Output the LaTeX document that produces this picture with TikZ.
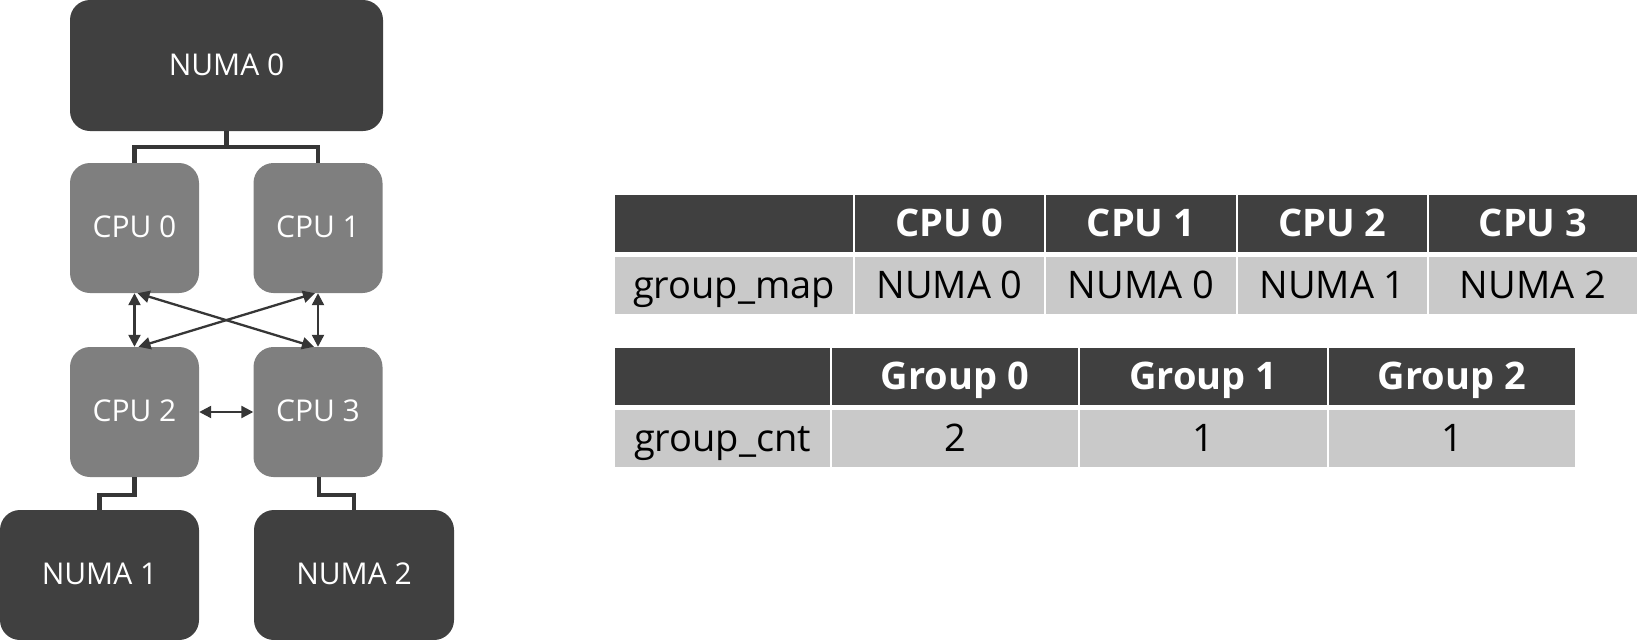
\documentclass[tikz,border=0pt]{standalone}
\usepackage{fontspec}
\setmainfont{Open Sans}
\usetikzlibrary{arrows.meta}
\definecolor{numagray}{HTML}{404040}
\definecolor{cpugray}{HTML}{7F7F7F}
\definecolor{cellgray}{HTML}{C9C9C9}
\definecolor{wiregray}{HTML}{363636}
\tikzset{
  box/.style={rounded corners=20pt, text=white, inner sep=0pt,
    font=\fontsize{30}{36}\selectfont, text height=22.5pt, text depth=3pt},
  numabox/.style={box, fill=numagray},
  cpubox/.style={box, fill=cpugray},
  bus/.style={draw=wiregray, line width=4.3pt},
  link/.style={draw=wiregray, line width=2.3pt, {Triangle[length=12pt,width=12pt]}-{Triangle[length=12pt,width=12pt]}},
  cell/.style={inner sep=0pt, minimum height=57pt, text height=28.5pt, text depth=3pt},
  headcell/.style={cell, fill=numagray, text=white, font=\fontsize{38}{44}\selectfont\bfseries},
  datacell/.style={cell, fill=cellgray, text=black, font=\fontsize{38}{44}\selectfont}
}
\begin{document}
\begin{tikzpicture}[x=1pt,y=-1pt]
  \useasboundingbox (0,0) rectangle (1642,640);
  % topology
  \node[numabox, minimum width=313pt, minimum height=131pt] (numa0) at (226.5,65.5) {NUMA 0};
  \node[cpubox, minimum width=129pt, minimum height=130pt] (cpu0) at (134.5,228) {CPU 0};
  \node[cpubox, minimum width=129pt, minimum height=130pt] (cpu1) at (318,228) {CPU 1};
  \node[cpubox, minimum width=129pt, minimum height=130pt] (cpu2) at (134.5,412) {CPU 2};
  \node[cpubox, minimum width=129pt, minimum height=130pt] (cpu3) at (318,412) {CPU 3};
  \node[numabox, minimum width=199pt, minimum height=130pt] (numa1) at (99.5,575) {NUMA 1};
  \node[numabox, minimum width=200pt, minimum height=130pt] (numa2) at (354,575) {NUMA 2};
  \coordinate (j0) at (226.5,147);
  \draw[bus] (numa0.south) -- (j0);
  \draw[bus] (cpu0.north) |- (j0) -| (cpu1.north);
  \draw[bus] (cpu2.south) -- ++(0,17.5) -| (numa1.north);
  \draw[bus] ([xshift=1pt]cpu3.south) -- ++(0,17.5) -| (numa2.north);
  \draw[link] (cpu0.south) -- (cpu2.north);
  \draw[link] (cpu1.south) -- (cpu3.north);
  \draw[link] ([xshift=3pt]cpu0.south) -- ([xshift=-4pt]cpu3.north);
  \draw[link] ([xshift=-3pt]cpu1.south) -- ([xshift=4pt]cpu2.north);
  \draw[link] (cpu2.east) -- (cpu3.west);
  % group_map table
  \node[headcell, minimum width=238pt] (maph0) at (734,223.5) {};
  \node[headcell, minimum width=189pt] (maph1) at (949.5,223.5) {CPU 0};
  \node[headcell, minimum width=190pt] (maph2) at (1141,223.5) {CPU 1};
  \node[headcell, minimum width=189pt] (maph3) at (1332.5,223.5) {CPU 2};
  \node[headcell, minimum width=208pt] (maph4) at (1533,223.5) {CPU 3};
  \node[datacell, minimum width=238pt] (mapd0) at (734,285.5) {group\_map};
  \node[datacell, minimum width=189pt] (mapd1) at (949.5,285.5) {NUMA 0};
  \node[datacell, minimum width=190pt] (mapd2) at (1141,285.5) {NUMA 0};
  \node[datacell, minimum width=189pt] (mapd3) at (1332.5,285.5) {NUMA 1};
  \node[datacell, minimum width=208pt] (mapd4) at (1533,285.5) {NUMA 2};
  % group_cnt table
  \node[headcell, minimum width=215pt] (cnth0) at (722.5,376.5) {};
  \node[headcell, minimum width=246pt] (cnth1) at (955,376.5) {Group 0};
  \node[headcell, minimum width=247pt] (cnth2) at (1203.5,376.5) {Group 1};
  \node[headcell, minimum width=246pt] (cnth3) at (1452,376.5) {Group 2};
  \node[datacell, minimum width=215pt] (cntd0) at (722.5,438.5) {group\_cnt};
  \node[datacell, minimum width=246pt] (cntd1) at (955,438.5) {2};
  \node[datacell, minimum width=247pt] (cntd2) at (1203.5,438.5) {1};
  \node[datacell, minimum width=246pt] (cntd3) at (1452,438.5) {1};
\end{tikzpicture}
\end{document}
